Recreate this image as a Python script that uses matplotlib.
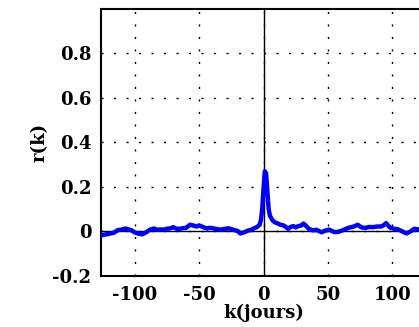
import numpy as np
import matplotlib
matplotlib.use("Agg")
from matplotlib import pyplot as plt

# %% donnees
k = [-126, -123, -121, -118, -116, -113, -110, -107, -104, -102, -100, -97,
     -94, -91, -88, -85, -82, -80, -77, -75, -72, -70, -67, -65, -62, -60,
     -57, -54, -52, -50, -47, -44, -42, -40, -36, -33, -31, -29, -27, -25,
     -22, -20, -18, -15, -12, -10, -8, -5, -3, -2, -1, 0, 1, 2, 3, 4, 5, 7,
     9, 11, 13, 15, 17, 19, 21, 23, 25, 27, 29, 31, 33, 35, 38, 41, 43, 45,
     48, 51, 53, 55, 58, 61, 64, 67, 70, 73, 76, 79, 82, 85, 88, 91, 93,
     95, 98, 101, 104, 107, 109, 111, 114, 117, 119, 121]
r = [-0.018, -0.014, -0.012, -0.008, -0.006, 0.006, 0.008, 0.013, 0.008,
     0.004, -0.004, -0.01, -0.013, -0.004, 0.008, 0.013, 0.007, 0.009,
     0.008, 0.012, 0.014, 0.019, 0.011, 0.012, 0.015, 0.016, 0.03, 0.026,
     0.022, 0.027, 0.02, 0.013, 0.016, 0.015, 0.01, 0.008, 0.011, 0.012,
     0.014, 0.01, 0.005, 0.002, -0.009, -0.004, 0.004, 0.006, 0.012, 0.02,
     0.03, 0.05, 0.1, 0.19, 0.27, 0.26, 0.18, 0.1, 0.07, 0.05, 0.04, 0.036,
     0.03, 0.028, 0.022, 0.012, 0.02, 0.024, 0.018, 0.024, 0.026, 0.035,
     0.025, 0.012, 0.005, 0.007, 0.002, -0.004, 0.004, 0.008, 0.002,
     -0.003, -0.002, 0.004, 0.012, 0.018, 0.022, 0.03, 0.018, 0.016, 0.02,
     0.019, 0.022, 0.022, 0.027, 0.037, 0.018, 0.012, 0.01, 0.002, -0.004,
     -0.009, 0.0, 0.012, 0.01, 0.008]

x_ticks = [-100, -50, 0, 50, 100]
y_ticks = [-0.2, 0, 0.2, 0.4, 0.6, 0.8]
y_tick_labels = ["-0.2", "0", "0.2", "0.4", "0.6", "0.8"]

plt.rcParams['font.family'] = ['DejaVu Serif']
plt.rcParams['font.weight'] = 'bold'

# %% figure
fig = plt.figure(figsize=(4.19, 3.27), dpi=100)
# l'axe depasse a droite : la figure d'origine est rognee
ax = fig.add_axes([101 / 419, 51 / 327, 325 / 419, 267 / 327])

ax.grid(True, color='black', linestyle=(0, (1.5, 7.5)), linewidth=1.0)
ax.axhline(0, color='black', linewidth=1.0, zorder=2)
ax.axvline(0, color='black', linewidth=1.0, zorder=2)
ax.plot(k, r, color='#0000ff', linewidth=3.2, zorder=3)

ax.set_xlim(-126, 126)
ax.set_ylim(-0.2, 0.998)
ax.set_xticks(x_ticks)
ax.set_xticklabels([str(v) for v in x_ticks])
ax.set_yticks(y_ticks)
ax.set_yticklabels(y_tick_labels)
ax.tick_params(length=0, labelsize=13, pad=7)
for lbl in ax.get_xticklabels() + ax.get_yticklabels():
    lbl.set_fontweight('bold')

for s in ax.spines.values():
    s.set_linewidth(1.5)

ax.set_xlabel("k(jours)", fontsize=13, fontweight='bold', labelpad=0)
ax.set_ylabel("r(k)", fontsize=13, fontweight='bold', labelpad=3)

fig.savefig("out.png", dpi=100)
